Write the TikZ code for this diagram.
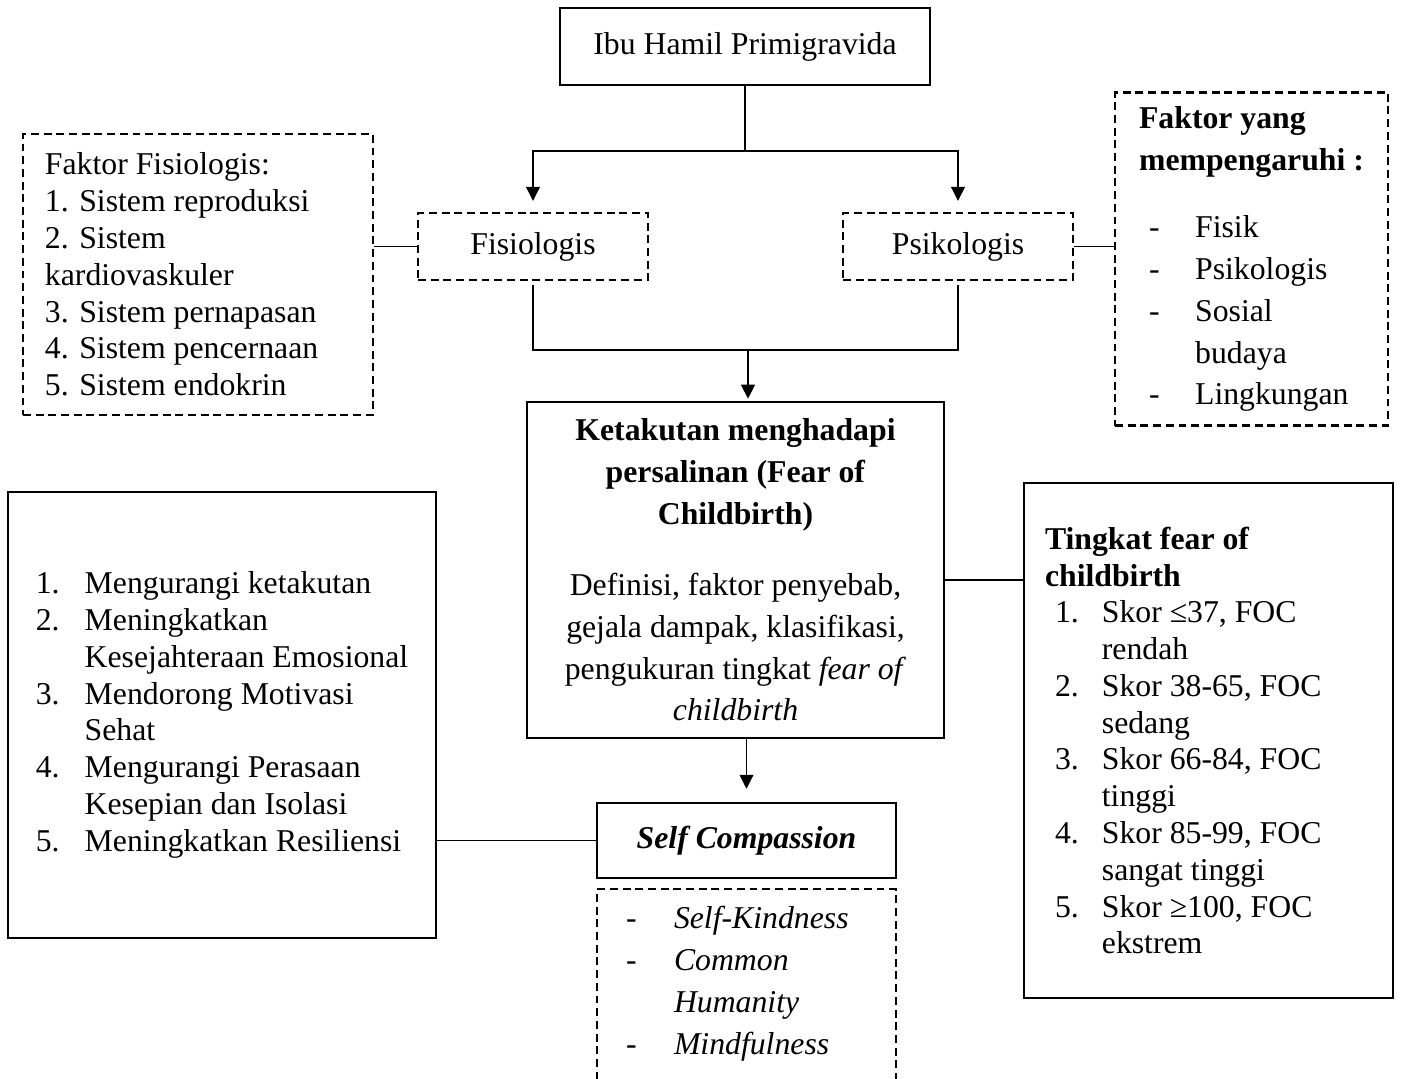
\documentclass[tikz,border=0pt]{standalone}
\usepackage{fontspec}
\setmainfont{Liberation Serif}
\usetikzlibrary{arrows.meta, positioning}
\newcommand{\listrow}[3]{\makebox[#1][l]{#2}#3}
\tikzset{
  solidbox/.style={
    draw, line width=0.9pt, inner sep=0pt, font=\fontsize{12}{13.9}\selectfont
  },
  dashbox/.style={solidbox, line width=0.8pt, dash pattern=on 3pt off 1.8pt},
  wide/.style={font=\fontsize{12}{15.8}\selectfont},
  link/.style={line width=0.65pt},
  link-arrow/.style={link, -{Triangle[length=5.3pt, width=5.2pt]}}
}
\begin{document}
\begin{tikzpicture}[x=0.378pt, y=-0.378pt]
  \useasboundingbox (0,0) rectangle (1402,1078);
  \clip (0,0) rectangle (1402,1078);

  % ---- Top row -------------------------------------------------------------
  \node[solidbox, minimum width=139.9pt, minimum height=29.1pt] (ibu) at (745,46.5)
        {Ibu Hamil Primigravida};
  \node[dashbox, minimum width=86.9pt, minimum height=25.3pt] (fis) at (533,246.5)
        {Fisiologis};
  \node[dashbox, minimum width=86.9pt, minimum height=25.3pt] (psi) at (958,246.5)
        {Psikologis};

  % ---- Side notes of the two factors ---------------------------------------
  \node[dashbox, text width=115.7pt, inner xsep=8.3pt, minimum height=106.2pt,
        align=flush left] (faktfis) at (198,274.5)
        {Faktor Fisiologis:\\ 1. Sistem reproduksi\\ 2. Sistem\\ kardiovaskuler\\
         3. Sistem pernapasan\\ 4. Sistem pencernaan\\ 5. Sistem endokrin};
  \node[dashbox, wide, minimum width=103.2pt, minimum height=125.9pt,
        align=flush left] (faktor) at (1251.5,259)
        {\textbf{Faktor yang}\\ \textbf{mempengaruhi :}\\[9.8pt]
         \listrow{21.2pt}{\hspace{3.8pt}-}{Fisik}\\
         \listrow{21.2pt}{\hspace{3.8pt}-}{Psikologis}\\
         \listrow{21.2pt}{\hspace{3.8pt}-}{Sosial}\\
         \hspace*{21.2pt}budaya\\
         \listrow{21.2pt}{\hspace{3.8pt}-}{Lingkungan}};

  % ---- Centre --------------------------------------------------------------
  \node[solidbox, wide, minimum width=157.6pt, minimum height=127pt,
        align=center] (ket) at (735.5,570)
        {\textbf{Ketakutan menghadapi}\\ \textbf{persalinan (Fear of}\\
         \textbf{Childbirth)}\\[11pt]
         Definisi, faktor penyebab,\\ gejala dampak, klasifikasi,\\
         pengukuran tingkat \textit{fear of}\\ \textit{childbirth}};
  \node[solidbox, minimum width=113pt, minimum height=28.4pt] (self) at (746.5,840.5)
        {\textbf{\textit{Self Compassion}}};
  \node[dashbox, wide, text width=91pt, inner xsep=11pt, inner ysep=6.4pt,
        align=flush left, below=3.4pt of self] (aspek)
        {\listrow{18.1pt}{-}{\textit{Self-Kindness}}\\
         \listrow{18.1pt}{-}{\textit{Common}}\\
         \hspace*{18.1pt}\textit{Humanity}\\
         \listrow{18.1pt}{-}{\textit{Mindfulness}}\rule[-30pt]{0pt}{0pt}};

  % ---- Lower side boxes ----------------------------------------------------
  \node[solidbox, minimum width=161.8pt, minimum height=168.6pt,
        align=flush left] (manfaat) at (222,715)
        {\listrow{18.5pt}{1.}{Mengurangi ketakutan}\\
         \listrow{18.5pt}{2.}{Meningkatkan}\\
         \hspace*{18.5pt}Kesejahteraan Emosional\\
         \listrow{18.5pt}{3.}{Mendorong Motivasi}\\
         \hspace*{18.5pt}Sehat\\
         \listrow{18.5pt}{4.}{Mengurangi Perasaan}\\
         \hspace*{18.5pt}Kesepian dan Isolasi\\
         \listrow{18.5pt}{5.}{Meningkatkan Resiliensi}};
  \node[solidbox, text width=123.6pt, inner xsep=7.9pt, minimum height=194.7pt,
        align=flush left] (tingkat) at (1208.5,740.5)
        {\textbf{Tingkat fear of}\\ \textbf{childbirth}\\
         \listrow{21.5pt}{\hspace{3.8pt}1.}{Skor ≤37, FOC}\\ \hspace*{21.5pt}rendah\\
         \listrow{21.5pt}{\hspace{3.8pt}2.}{Skor 38-65, FOC}\\ \hspace*{21.5pt}sedang\\
         \listrow{21.5pt}{\hspace{3.8pt}3.}{Skor 66-84, FOC}\\ \hspace*{21.5pt}tinggi\\
         \listrow{21.5pt}{\hspace{3.8pt}4.}{Skor 85-99, FOC}\\ \hspace*{21.5pt}sangat tinggi\\
         \listrow{21.5pt}{\hspace{3.8pt}5.}{Skor ≥100, FOC}\\ \hspace*{21.5pt}ekstrem};

  % ---- Connectors ----------------------------------------------------------
  \coordinate (split) at (745,151);
  \coordinate (merge) at (748,350);
  \draw[link] (ibu.south) -- (split);
  \draw[link-arrow, shorten >=4.2pt] (split) -| (fis.north);
  \draw[link-arrow, shorten >=4.2pt] (split) -| (psi.north);
  \draw[link, shorten <=1.5pt] (fis.south) |- (merge);
  \draw[link, shorten <=1.5pt] (psi.south) |- (merge);
  \draw[link-arrow, shorten >=0.8pt] (merge) -- (merge |- ket.north);
  \draw[link-arrow, shorten >=4.9pt] (self.north |- ket.south) -- (self.north);

  \draw[link] (fis.west) -- (fis.west -| faktfis.east);
  \draw[link] (psi.east) -- (psi.east -| faktor.west);
  \coordinate (ketside) at ([yshift=-3.8pt]ket.east);
  \draw[link] (ketside) -- (ketside -| tingkat.west);
  \draw[link] (self.west) -- (self.west -| manfaat.east);

\end{tikzpicture}
\end{document}
